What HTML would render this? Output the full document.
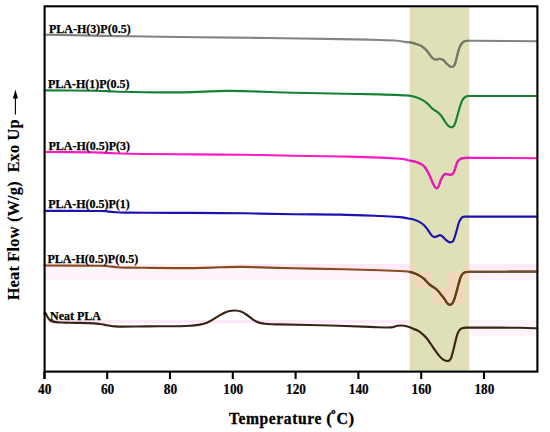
<!DOCTYPE html>
<html><head><meta charset="utf-8"><style>
html,body{margin:0;padding:0;background:#fff;width:550px;height:432px;overflow:hidden}
svg{display:block;font-family:"Liberation Serif",serif;font-weight:bold}
</style></head><body>
<svg width="550" height="432" viewBox="0 0 550 432">
<defs><clipPath id="shd"><rect x="409.7" y="7.5" width="59.6" height="362.5"/></clipPath><clipPath id="rgt"><rect x="469.3" y="7.5" width="70" height="362.5"/></clipPath></defs>
<rect x="409.7" y="7.5" width="59.6" height="363" fill="#dfe0b8"/>
<g fill="#fef4fb">
<rect x="44" y="264" width="366" height="16"/>
</g>
<g fill="#fdf4fb">
<rect x="469.3" y="264" width="68" height="16"/>
<rect x="469.3" y="320" width="68" height="16"/>
</g>
<g fill="#fde9f9">
<rect x="240" y="264" width="170" height="4.5"/>
<rect x="48" y="320" width="362" height="3.2"/>
</g>
<rect x="469.3" y="264" width="68" height="5" fill="#fdebfa"/>
<g fill="#efd8bc">
<rect x="409.7" y="264" width="6.3" height="16"/>
<rect x="416" y="272" width="16" height="16"/>
<rect x="432" y="288" width="16" height="16"/>
<rect x="448" y="272" width="16" height="32"/>
<rect x="464" y="264" width="5.3" height="16"/>
</g>
<g fill="none" stroke-width="2.15" stroke-linejoin="round" stroke-linecap="round">
<path d="M44.5,34.8 C48.8,34.8 55.8,34.9 70.0,35.1 C84.2,35.4 108.3,35.9 130.0,36.3 C151.7,36.7 180.0,37.0 200.0,37.3 C220.0,37.5 233.3,37.6 250.0,37.8 C266.7,38.0 285.0,38.3 300.0,38.5 C315.0,38.7 328.3,38.9 340.0,39.1 C351.7,39.3 360.8,39.5 370.0,39.7 C379.2,39.9 389.2,40.1 395.0,40.5 C400.8,40.9 402.5,41.6 405.0,41.9 C407.5,42.2 408.3,42.1 409.9,42.4 C411.5,42.7 413.1,43.0 414.7,43.5 C416.3,44.0 418.1,44.4 419.6,45.1 C421.1,45.8 422.4,46.7 423.6,47.6 C424.8,48.5 425.9,49.7 426.9,50.8 C427.8,51.9 428.5,52.9 429.3,54.0 C430.1,55.1 430.9,56.4 431.7,57.3 C432.5,58.1 433.3,58.7 434.1,59.1 C434.9,59.5 435.7,59.5 436.6,59.5 C437.5,59.5 438.5,58.8 439.4,58.8 C440.3,58.8 441.1,59.0 441.9,59.3 C442.6,59.6 443.2,59.8 443.9,60.5 C444.6,61.2 445.4,62.4 446.3,63.3 C447.2,64.2 448.3,65.2 449.2,65.8 C450.1,66.4 450.9,66.9 451.6,67.0 C452.3,67.1 453.0,66.8 453.6,66.2 C454.2,65.6 454.7,64.6 455.2,63.3 C455.7,62.0 456.0,60.4 456.5,58.5 C457.0,56.6 457.6,53.9 458.1,52.0 C458.6,50.1 459.1,48.5 459.7,47.1 C460.3,45.7 461.0,44.4 461.7,43.5 C462.4,42.6 463.2,42.0 464.1,41.5 C465.1,41.0 465.6,40.9 467.4,40.8 C469.2,40.7 463.4,40.7 475.0,40.8 C486.6,40.9 526.9,41.1 537.3,41.2" stroke="#838383"/>
<path d="M44.5,90.4 C52.8,90.5 82.4,90.5 94.0,90.7 C105.6,90.9 105.7,91.2 114.0,91.5 C122.3,91.8 133.0,92.0 144.0,92.2 C155.0,92.4 169.8,92.5 180.0,92.4 C190.2,92.3 197.5,91.8 205.0,91.6 C212.5,91.3 218.5,91.0 225.0,90.9 C231.5,90.8 236.5,90.9 244.0,91.1 C251.5,91.3 261.7,91.7 270.0,92.0 C278.3,92.3 281.7,92.5 294.0,92.8 C306.3,93.1 329.7,93.4 344.0,93.7 C358.3,94.0 369.8,94.1 380.0,94.4 C390.2,94.7 400.1,95.2 405.0,95.4 C409.9,95.6 408.1,95.5 409.6,95.7 C411.2,95.9 412.8,96.3 414.3,96.7 C415.9,97.1 417.4,97.7 418.9,98.3 C420.4,98.9 422.1,99.8 423.5,100.6 C424.9,101.4 426.1,102.5 427.2,103.4 C428.3,104.3 429.1,105.3 430.0,106.2 C430.9,107.1 431.9,108.2 432.8,109.0 C433.7,109.8 434.7,110.1 435.6,110.8 C436.6,111.5 437.5,112.0 438.5,112.9 C439.5,113.8 440.4,114.7 441.5,116.2 C442.6,117.7 444.1,120.3 445.2,121.9 C446.3,123.5 447.1,124.7 448.0,125.6 C448.9,126.5 449.8,127.0 450.7,127.2 C451.6,127.4 452.4,127.2 453.1,126.6 C453.8,126.0 454.3,125.3 454.9,123.8 C455.5,122.3 456.2,119.9 456.8,117.8 C457.4,115.7 458.0,113.5 458.6,111.3 C459.2,109.1 459.9,106.6 460.5,104.8 C461.1,103.0 461.6,101.4 462.3,100.2 C463.0,99.0 463.8,98.1 464.6,97.4 C465.5,96.8 465.7,96.5 467.4,96.3 C469.1,96.1 463.4,96.0 475.0,96.0 C486.6,96.0 526.9,96.0 537.3,96.0" stroke="#168034"/>
<path d="M44.5,152.0 C52.8,152.1 82.4,152.2 94.0,152.4 C105.6,152.6 105.7,152.9 114.0,153.2 C122.3,153.5 130.7,153.8 144.0,154.0 C157.3,154.2 177.3,154.3 194.0,154.4 C210.7,154.5 227.3,154.6 244.0,154.8 C260.7,155.0 278.0,155.4 294.0,155.7 C310.0,156.0 325.7,156.2 340.0,156.5 C354.3,156.8 370.0,157.2 380.0,157.6 C390.0,158.0 395.8,158.4 400.0,158.7 C404.2,159.0 403.4,159.1 405.0,159.4 C406.6,159.7 408.1,160.2 409.6,160.6 C411.2,160.9 412.8,161.1 414.3,161.5 C415.9,161.9 417.5,162.3 418.9,162.9 C420.3,163.5 421.5,164.2 422.6,165.0 C423.7,165.8 424.5,166.9 425.4,168.0 C426.2,169.1 426.9,170.3 427.7,171.7 C428.5,173.1 429.2,174.6 430.0,176.3 C430.8,178.0 431.5,180.2 432.3,181.9 C433.1,183.6 433.9,185.4 434.6,186.5 C435.3,187.6 435.7,188.2 436.3,188.3 C436.9,188.4 437.6,188.2 438.4,186.8 C439.2,185.4 440.2,181.5 441.0,179.6 C441.8,177.7 442.5,176.4 443.3,175.5 C444.1,174.6 444.8,174.1 445.6,173.9 C446.4,173.7 447.2,174.2 448.0,174.3 C448.8,174.5 449.5,174.9 450.3,174.8 C451.1,174.7 451.9,174.6 452.6,173.9 C453.3,173.2 453.8,172.3 454.4,170.8 C455.0,169.3 455.7,166.5 456.3,164.8 C456.9,163.2 457.4,161.9 458.1,160.9 C458.8,159.9 459.7,159.3 460.5,158.8 C461.3,158.3 461.7,158.2 462.8,158.1 C463.9,157.9 465.4,157.9 467.4,157.9 C469.4,157.9 463.4,157.9 475.0,157.9 C486.6,157.9 526.9,158.1 537.3,158.2" stroke="#ff18c4"/>
<path d="M44.5,210.8 C53.8,210.8 89.4,210.9 100.0,211.0 C110.6,211.1 105.3,211.4 108.0,211.6 C110.7,211.8 113.2,212.0 116.0,212.2 C118.8,212.4 120.3,212.5 125.0,212.6 C129.7,212.7 132.5,212.6 144.0,212.7 C155.5,212.8 177.3,212.8 194.0,212.9 C210.7,213.0 227.3,213.1 244.0,213.3 C260.7,213.5 278.0,214.0 294.0,214.2 C310.0,214.4 325.7,214.3 340.0,214.6 C354.3,214.9 370.0,215.6 380.0,216.0 C390.0,216.4 395.8,216.8 400.0,217.1 C404.2,217.4 403.4,217.6 405.0,217.9 C406.6,218.2 408.1,218.5 409.6,218.8 C411.2,219.1 412.8,219.2 414.3,219.7 C415.9,220.2 417.4,220.8 418.9,221.6 C420.4,222.4 422.1,223.6 423.5,224.8 C424.9,226.0 426.1,227.6 427.2,229.0 C428.3,230.4 429.1,231.9 430.0,233.1 C430.9,234.3 431.5,235.3 432.3,236.0 C433.1,236.7 433.8,237.1 434.6,237.1 C435.4,237.1 436.4,236.5 437.3,236.2 C438.2,235.9 439.2,235.0 440.1,235.1 C441.0,235.2 441.9,236.1 442.9,236.9 C443.9,237.8 445.1,239.3 446.1,240.2 C447.1,241.0 448.1,241.7 448.9,242.0 C449.7,242.3 450.0,242.5 450.7,242.3 C451.4,242.2 452.4,242.1 453.1,241.1 C453.8,240.1 454.3,238.3 454.9,236.5 C455.5,234.7 456.2,232.2 456.8,230.0 C457.4,227.8 458.0,225.3 458.6,223.5 C459.2,221.7 459.8,220.5 460.5,219.4 C461.2,218.3 461.9,217.5 462.8,217.0 C463.7,216.5 463.6,216.7 465.6,216.6 C467.6,216.5 463.1,216.6 475.0,216.6 C486.9,216.6 526.9,216.6 537.3,216.6" stroke="#1c12b2"/>
<path d="M44.5,265.5 C53.8,265.5 89.4,265.6 100.0,265.7 C110.6,265.8 105.3,266.1 108.0,266.3 C110.7,266.5 113.2,266.9 116.0,267.1 C118.8,267.3 120.3,267.5 125.0,267.6 C129.7,267.7 132.5,267.7 144.0,267.8 C155.5,267.9 181.3,268.2 194.0,268.1 C206.7,268.0 211.7,267.5 220.0,267.3 C228.3,267.1 231.7,266.7 244.0,266.9 C256.3,267.1 277.3,267.9 294.0,268.3 C310.7,268.7 329.7,269.0 344.0,269.3 C358.3,269.6 370.7,270.0 380.0,270.3 C389.3,270.6 395.8,270.8 400.0,271.0 C404.2,271.2 403.4,271.2 405.0,271.3 C406.6,271.4 408.1,271.6 409.6,271.9 C411.2,272.2 412.8,272.7 414.3,273.3 C415.9,273.9 417.4,274.5 418.9,275.4 C420.4,276.2 422.1,277.3 423.5,278.4 C424.9,279.5 426.1,281.0 427.2,282.1 C428.3,283.2 429.1,284.1 430.0,284.9 C430.9,285.7 431.9,286.2 432.8,286.8 C433.7,287.4 434.7,287.9 435.6,288.6 C436.5,289.3 437.4,290.2 438.3,291.2 C439.2,292.2 440.2,293.5 441.2,294.8 C442.2,296.1 443.4,297.5 444.4,298.9 C445.4,300.3 446.1,302.0 447.0,303.0 C447.9,304.0 448.7,304.7 449.6,304.8 C450.5,304.9 451.4,304.4 452.2,303.5 C453.0,302.6 453.6,301.3 454.3,299.4 C455.0,297.5 455.7,294.5 456.4,292.1 C457.1,289.7 457.7,287.2 458.4,284.8 C459.1,282.4 459.8,279.3 460.5,277.5 C461.2,275.7 461.8,274.8 462.6,273.9 C463.4,273.0 464.1,272.6 465.2,272.3 C466.3,272.0 467.8,271.9 469.4,271.8 C471.0,271.7 463.7,271.8 475.0,271.8 C486.3,271.8 526.9,271.6 537.3,271.6" stroke="#8a4a1e"/>
<path d="M44.5,313.8 C44.7,313.7 45.1,312.8 45.6,313.3 C46.1,313.8 46.8,315.7 47.3,316.6 C47.8,317.5 48.2,318.2 48.7,318.8 C49.2,319.4 49.6,319.9 50.2,320.3 C50.8,320.7 51.4,321.1 52.4,321.4 C53.4,321.7 54.4,321.9 56.0,322.1 C57.6,322.3 59.6,322.4 61.8,322.5 C64.0,322.6 66.1,322.6 69.1,322.7 C72.1,322.8 75.8,322.8 80.0,322.9 C84.2,323.0 90.7,323.2 94.0,323.4 C97.3,323.6 98.2,323.8 100.0,324.0 C101.8,324.2 103.3,324.6 105.0,324.9 C106.7,325.2 108.3,325.6 110.0,325.8 C111.7,326.1 113.0,326.3 115.0,326.4 C117.0,326.5 118.7,326.6 122.0,326.6 C125.3,326.6 128.7,326.6 135.0,326.5 C141.3,326.4 152.5,326.4 160.0,326.3 C167.5,326.2 175.0,326.3 180.0,326.2 C185.0,326.1 186.7,326.0 190.0,325.7 C193.3,325.4 197.2,325.1 200.0,324.6 C202.8,324.1 204.9,323.5 207.0,322.7 C209.1,321.9 210.9,320.8 212.7,319.7 C214.5,318.6 216.1,317.5 218.0,316.4 C219.9,315.3 222.1,313.9 224.0,313.0 C225.9,312.1 227.6,311.4 229.5,311.0 C231.4,310.6 233.4,310.4 235.3,310.5 C237.2,310.6 239.1,310.9 241.0,311.6 C242.9,312.4 244.9,313.6 247.0,315.0 C249.1,316.4 251.4,318.6 253.4,319.9 C255.4,321.2 257.1,322.0 259.0,322.6 C260.9,323.2 262.8,323.4 265.0,323.7 C267.2,324.0 269.5,324.1 272.0,324.2 C274.5,324.3 270.3,324.2 280.0,324.4 C289.7,324.6 315.0,325.1 330.0,325.5 C345.0,325.9 361.8,326.6 370.0,326.9 C378.2,327.2 376.1,327.2 379.1,327.3 C382.1,327.4 385.9,327.5 388.2,327.5 C390.5,327.5 391.2,327.4 392.7,327.1 C394.2,326.8 395.8,326.1 397.3,325.8 C398.8,325.5 400.4,325.5 401.8,325.5 C403.2,325.5 404.3,325.7 405.5,326.0 C406.7,326.3 407.8,326.6 409.1,327.1 C410.5,327.6 412.1,328.3 413.6,328.9 C415.1,329.5 416.8,330.0 418.3,330.9 C419.8,331.8 421.1,332.9 422.5,334.1 C423.9,335.3 425.3,336.6 426.7,338.2 C428.1,339.8 429.4,342.0 430.8,344.0 C432.2,346.0 433.6,348.2 435.0,350.2 C436.4,352.2 437.8,354.3 439.2,355.9 C440.6,357.5 442.0,358.8 443.2,359.6 C444.4,360.4 445.6,360.7 446.5,360.9 C447.4,361.1 448.2,361.1 448.9,360.7 C449.6,360.3 450.3,359.7 450.9,358.5 C451.5,357.3 452.0,355.2 452.5,353.3 C453.0,351.4 453.6,349.2 454.1,347.1 C454.6,345.0 455.1,342.9 455.6,340.8 C456.1,338.7 456.6,336.3 457.2,334.6 C457.8,332.9 458.5,331.4 459.3,330.4 C460.1,329.3 460.8,328.8 461.9,328.3 C463.0,327.8 463.0,327.7 466.0,327.6 C469.0,327.5 471.0,327.6 480.0,327.6 C489.0,327.6 510.4,327.7 520.0,327.8 C529.5,327.9 534.4,328.2 537.3,328.3" stroke="#3a2414"/>
<path d="M44.5,265.5 C53.8,265.5 89.4,265.6 100.0,265.7 C110.6,265.8 105.3,266.1 108.0,266.3 C110.7,266.5 113.2,266.9 116.0,267.1 C118.8,267.3 120.3,267.5 125.0,267.6 C129.7,267.7 132.5,267.7 144.0,267.8 C155.5,267.9 181.3,268.2 194.0,268.1 C206.7,268.0 211.7,267.5 220.0,267.3 C228.3,267.1 231.7,266.7 244.0,266.9 C256.3,267.1 277.3,267.9 294.0,268.3 C310.7,268.7 329.7,269.0 344.0,269.3 C358.3,269.6 370.7,270.0 380.0,270.3 C389.3,270.6 395.8,270.8 400.0,271.0 C404.2,271.2 403.4,271.2 405.0,271.3 C406.6,271.4 408.1,271.6 409.6,271.9 C411.2,272.2 412.8,272.7 414.3,273.3 C415.9,273.9 417.4,274.5 418.9,275.4 C420.4,276.2 422.1,277.3 423.5,278.4 C424.9,279.5 426.1,281.0 427.2,282.1 C428.3,283.2 429.1,284.1 430.0,284.9 C430.9,285.7 431.9,286.2 432.8,286.8 C433.7,287.4 434.7,287.9 435.6,288.6 C436.5,289.3 437.4,290.2 438.3,291.2 C439.2,292.2 440.2,293.5 441.2,294.8 C442.2,296.1 443.4,297.5 444.4,298.9 C445.4,300.3 446.1,302.0 447.0,303.0 C447.9,304.0 448.7,304.7 449.6,304.8 C450.5,304.9 451.4,304.4 452.2,303.5 C453.0,302.6 453.6,301.3 454.3,299.4 C455.0,297.5 455.7,294.5 456.4,292.1 C457.1,289.7 457.7,287.2 458.4,284.8 C459.1,282.4 459.8,279.3 460.5,277.5 C461.2,275.7 461.8,274.8 462.6,273.9 C463.4,273.0 464.1,272.6 465.2,272.3 C466.3,272.0 467.8,271.9 469.4,271.8 C471.0,271.7 463.7,271.8 475.0,271.8 C486.3,271.8 526.9,271.6 537.3,271.6" stroke="#5e4216" clip-path="url(#shd)"/>
<path d="M44.5,34.8 C48.8,34.8 55.8,34.9 70.0,35.1 C84.2,35.4 108.3,35.9 130.0,36.3 C151.7,36.7 180.0,37.0 200.0,37.3 C220.0,37.5 233.3,37.6 250.0,37.8 C266.7,38.0 285.0,38.3 300.0,38.5 C315.0,38.7 328.3,38.9 340.0,39.1 C351.7,39.3 360.8,39.5 370.0,39.7 C379.2,39.9 389.2,40.1 395.0,40.5 C400.8,40.9 402.5,41.6 405.0,41.9 C407.5,42.2 408.3,42.1 409.9,42.4 C411.5,42.7 413.1,43.0 414.7,43.5 C416.3,44.0 418.1,44.4 419.6,45.1 C421.1,45.8 422.4,46.7 423.6,47.6 C424.8,48.5 425.9,49.7 426.9,50.8 C427.8,51.9 428.5,52.9 429.3,54.0 C430.1,55.1 430.9,56.4 431.7,57.3 C432.5,58.1 433.3,58.7 434.1,59.1 C434.9,59.5 435.7,59.5 436.6,59.5 C437.5,59.5 438.5,58.8 439.4,58.8 C440.3,58.8 441.1,59.0 441.9,59.3 C442.6,59.6 443.2,59.8 443.9,60.5 C444.6,61.2 445.4,62.4 446.3,63.3 C447.2,64.2 448.3,65.2 449.2,65.8 C450.1,66.4 450.9,66.9 451.6,67.0 C452.3,67.1 453.0,66.8 453.6,66.2 C454.2,65.6 454.7,64.6 455.2,63.3 C455.7,62.0 456.0,60.4 456.5,58.5 C457.0,56.6 457.6,53.9 458.1,52.0 C458.6,50.1 459.1,48.5 459.7,47.1 C460.3,45.7 461.0,44.4 461.7,43.5 C462.4,42.6 463.2,42.0 464.1,41.5 C465.1,41.0 465.6,40.9 467.4,40.8 C469.2,40.7 463.4,40.7 475.0,40.8 C486.6,40.9 526.9,41.1 537.3,41.2" stroke="#76766a" clip-path="url(#shd)"/>
<path d="M44.5,152.0 C52.8,152.1 82.4,152.2 94.0,152.4 C105.6,152.6 105.7,152.9 114.0,153.2 C122.3,153.5 130.7,153.8 144.0,154.0 C157.3,154.2 177.3,154.3 194.0,154.4 C210.7,154.5 227.3,154.6 244.0,154.8 C260.7,155.0 278.0,155.4 294.0,155.7 C310.0,156.0 325.7,156.2 340.0,156.5 C354.3,156.8 370.0,157.2 380.0,157.6 C390.0,158.0 395.8,158.4 400.0,158.7 C404.2,159.0 403.4,159.1 405.0,159.4 C406.6,159.7 408.1,160.2 409.6,160.6 C411.2,160.9 412.8,161.1 414.3,161.5 C415.9,161.9 417.5,162.3 418.9,162.9 C420.3,163.5 421.5,164.2 422.6,165.0 C423.7,165.8 424.5,166.9 425.4,168.0 C426.2,169.1 426.9,170.3 427.7,171.7 C428.5,173.1 429.2,174.6 430.0,176.3 C430.8,178.0 431.5,180.2 432.3,181.9 C433.1,183.6 433.9,185.4 434.6,186.5 C435.3,187.6 435.7,188.2 436.3,188.3 C436.9,188.4 437.6,188.2 438.4,186.8 C439.2,185.4 440.2,181.5 441.0,179.6 C441.8,177.7 442.5,176.4 443.3,175.5 C444.1,174.6 444.8,174.1 445.6,173.9 C446.4,173.7 447.2,174.2 448.0,174.3 C448.8,174.5 449.5,174.9 450.3,174.8 C451.1,174.7 451.9,174.6 452.6,173.9 C453.3,173.2 453.8,172.3 454.4,170.8 C455.0,169.3 455.7,166.5 456.3,164.8 C456.9,163.2 457.4,161.9 458.1,160.9 C458.8,159.9 459.7,159.3 460.5,158.8 C461.3,158.3 461.7,158.2 462.8,158.1 C463.9,157.9 465.4,157.9 467.4,157.9 C469.4,157.9 463.4,157.9 475.0,157.9 C486.6,157.9 526.9,158.1 537.3,158.2" stroke="#e61cb6" clip-path="url(#shd)"/>
<path d="M44.5,265.5 C53.8,265.5 89.4,265.6 100.0,265.7 C110.6,265.8 105.3,266.1 108.0,266.3 C110.7,266.5 113.2,266.9 116.0,267.1 C118.8,267.3 120.3,267.5 125.0,267.6 C129.7,267.7 132.5,267.7 144.0,267.8 C155.5,267.9 181.3,268.2 194.0,268.1 C206.7,268.0 211.7,267.5 220.0,267.3 C228.3,267.1 231.7,266.7 244.0,266.9 C256.3,267.1 277.3,267.9 294.0,268.3 C310.7,268.7 329.7,269.0 344.0,269.3 C358.3,269.6 370.7,270.0 380.0,270.3 C389.3,270.6 395.8,270.8 400.0,271.0 C404.2,271.2 403.4,271.2 405.0,271.3 C406.6,271.4 408.1,271.6 409.6,271.9 C411.2,272.2 412.8,272.7 414.3,273.3 C415.9,273.9 417.4,274.5 418.9,275.4 C420.4,276.2 422.1,277.3 423.5,278.4 C424.9,279.5 426.1,281.0 427.2,282.1 C428.3,283.2 429.1,284.1 430.0,284.9 C430.9,285.7 431.9,286.2 432.8,286.8 C433.7,287.4 434.7,287.9 435.6,288.6 C436.5,289.3 437.4,290.2 438.3,291.2 C439.2,292.2 440.2,293.5 441.2,294.8 C442.2,296.1 443.4,297.5 444.4,298.9 C445.4,300.3 446.1,302.0 447.0,303.0 C447.9,304.0 448.7,304.7 449.6,304.8 C450.5,304.9 451.4,304.4 452.2,303.5 C453.0,302.6 453.6,301.3 454.3,299.4 C455.0,297.5 455.7,294.5 456.4,292.1 C457.1,289.7 457.7,287.2 458.4,284.8 C459.1,282.4 459.8,279.3 460.5,277.5 C461.2,275.7 461.8,274.8 462.6,273.9 C463.4,273.0 464.1,272.6 465.2,272.3 C466.3,272.0 467.8,271.9 469.4,271.8 C471.0,271.7 463.7,271.8 475.0,271.8 C486.3,271.8 526.9,271.6 537.3,271.6" stroke="#6c4e2e" clip-path="url(#rgt)"/>
</g>
<g stroke="#000" stroke-width="2.1" fill="none">
<rect x="44.6" y="6.3" width="492.8" height="365.3"/>
<line x1="44.4" y1="372" x2="44.4" y2="379"/><line x1="107.2" y1="372" x2="107.2" y2="379"/><line x1="170.0" y1="372" x2="170.0" y2="379"/><line x1="232.8" y1="372" x2="232.8" y2="379"/><line x1="295.6" y1="372" x2="295.6" y2="379"/><line x1="358.4" y1="372" x2="358.4" y2="379"/><line x1="421.2" y1="372" x2="421.2" y2="379"/><line x1="484.0" y1="372" x2="484.0" y2="379"/>
<line x1="44.6" y1="371" x2="44.6" y2="379"/>
</g>
<g font-size="12" fill="#000" stroke="#000" stroke-width="0.25">
<text x="49.0" y="32.8">PLA-H(3)P(0.5)</text>
<text x="47.9" y="88.2">PLA-H(1)P(0.5)</text>
<text x="48.4" y="149.8">PLA-H(0.5)P(3)</text>
<text x="48.2" y="208.2">PLA-H(0.5)P(1)</text>
<text x="47.5" y="263.4">PLA-H(0.5)P(0.5)</text>
<text x="50.0" y="319.9">Neat PLA</text>
</g>
<g font-size="14" fill="#000" stroke="#000" stroke-width="0.2">
<text x="38.1" y="393.8" textLength="13.4" lengthAdjust="spacingAndGlyphs">40</text><text x="100.9" y="393.8" textLength="13.4" lengthAdjust="spacingAndGlyphs">60</text><text x="163.7" y="393.8" textLength="13.4" lengthAdjust="spacingAndGlyphs">80</text><text x="223.3" y="393.8" textLength="19.9" lengthAdjust="spacingAndGlyphs">100</text><text x="286.1" y="393.8" textLength="19.9" lengthAdjust="spacingAndGlyphs">120</text><text x="348.8" y="393.8" textLength="19.9" lengthAdjust="spacingAndGlyphs">140</text><text x="411.6" y="393.8" textLength="19.9" lengthAdjust="spacingAndGlyphs">160</text><text x="474.4" y="393.8" textLength="19.9" lengthAdjust="spacingAndGlyphs">180</text>
</g>
<g font-size="17" fill="#000" stroke="#000" stroke-width="0.3">
<text transform="translate(228.9,424.1) scale(0.92,1)" x="0" y="0" textLength="100.6" lengthAdjust="spacing">Temperature</text>
<text x="326.3" y="424.1">(</text>
<text x="331.2" y="414.1" font-size="8.5">o</text>
<text x="336.6" y="424.1" textLength="11.6" lengthAdjust="spacingAndGlyphs">C</text>
<text x="348.4" y="424.1">)</text>
</g>
<text transform="translate(18.6,300.3) rotate(-90) scale(0.96,1)" font-size="17" fill="#000" stroke="#000" stroke-width="0.15" textLength="188.5" lengthAdjust="spacing">Heat Flow (W/g)&#160;&#160;Exo Up</text>
<line x1="15.4" y1="114.5" x2="15.4" y2="97" stroke="#000" stroke-width="1.1"/>
<path d="M15.4,89.6 L17.9,98.6 L12.9,98.6 Z" fill="#000"/>
</svg>
</body></html>
